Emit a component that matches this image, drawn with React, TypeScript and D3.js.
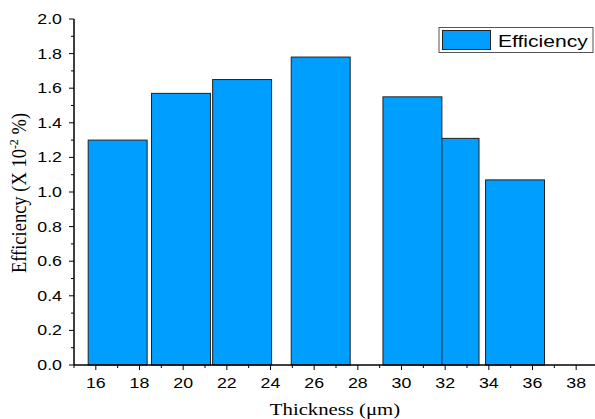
import React, { useRef, useEffect } from "react";
import * as d3 from "d3";

// thickness (µm) at the centre of each bar, and the efficiency (x 10^-2 %)
const thickness = [17.0, 19.9, 22.7, 26.3, 30.5, 32.2, 35.2];
const efficiency = [1.3, 1.57, 1.65, 1.78, 1.55, 1.31, 1.07];
const xTicks = [16, 18, 20, 22, 24, 26, 28, 30, 32, 34, 36, 38];
const yTicks = [0, 0.2, 0.4, 0.6, 0.8, 1.0, 1.2, 1.4, 1.6, 1.8, 2.0];

const W = 595;
const H = 419;
const BAR_W = 2.7; // in thickness units
const FILL = "#009eff";
const SX = 1.27; // the original figure is stretched sideways
const SANS = "Liberation Sans, Arial, sans-serif";
const SERIF = "Liberation Serif, Times New Roman, serif";

const App = () => {
  const svgRef = useRef<SVGSVGElement>(null);

  useEffect(() => {
    const svg = d3.select(svgRef.current);
    svg.selectAll("*").remove();

    const x = d3.scaleLinear().domain([15, 39]).range([74, 598]);
    const y = d3.scaleLinear().domain([0, 2]).range([365, 19]);

    // bars: drawn last-to-first so the 30.5 bar sits over the 32.2 one
    const idx = d3.range(thickness.length).reverse();
    svg
      .append("g")
      .selectAll("rect")
      .data(idx)
      .enter()
      .append("rect")
      .attr("x", (i) => x(thickness[i] - BAR_W / 2))
      .attr("width", (i) => x(thickness[i] + BAR_W / 2) - x(thickness[i] - BAR_W / 2))
      .attr("y", (i) => y(efficiency[i]))
      .attr("height", (i) => y(0) - y(efficiency[i]))
      .attr("fill", FILL)
      .attr("stroke", "#222")
      .attr("stroke-width", 1);

    // x axis
    const xAxis = svg.append("g").attr("transform", `translate(0,${y(0)})`);
    xAxis
      .append("line")
      .attr("x1", 74)
      .attr("x2", W)
      .attr("stroke", "#000")
      .attr("stroke-width", 1.5);
    xAxis
      .selectAll(".minor")
      .data(d3.range(15, 39))
      .enter()
      .append("line")
      .attr("x1", (d) => x(d))
      .attr("x2", (d) => x(d))
      .attr("y1", 0)
      .attr("y2", (d) => (d % 2 === 0 ? 5 : 3))
      .attr("stroke", "#000")
      .attr("stroke-width", 1);
    xAxis
      .selectAll("text")
      .data(xTicks)
      .enter()
      .append("text")
      .attr("transform", (d) => `translate(${x(d)},23) scale(${SX},1)`)
      .attr("text-anchor", "middle")
      .attr("font-family", SANS)
      .attr("font-size", 14)
      .text((d) => d);

    // y axis
    const yAxis = svg.append("g").attr("transform", `translate(74,0)`);
    yAxis
      .append("line")
      .attr("y1", y(2))
      .attr("y2", y(0))
      .attr("stroke", "#000")
      .attr("stroke-width", 1.5);
    yAxis
      .selectAll(".tick")
      .data(d3.range(0, 21).map((d) => d / 10))
      .enter()
      .append("line")
      .attr("y1", (d) => y(d))
      .attr("y2", (d) => y(d))
      .attr("x1", 0)
      .attr("x2", (d, i) => (i % 2 === 0 ? -5 : -3))
      .attr("stroke", "#000")
      .attr("stroke-width", 1);
    yAxis
      .selectAll("text")
      .data(yTicks)
      .enter()
      .append("text")
      .attr("transform", (d) => `translate(-12,${y(d)}) scale(${SX},1)`)
      .attr("dy", "0.35em")
      .attr("text-anchor", "end")
      .attr("font-family", SANS)
      .attr("font-size", 14)
      .text((d) => d.toFixed(1));

    // axis titles
    svg
      .append("text")
      .attr("transform", `translate(335,415) scale(1.22,1)`)
      .attr("text-anchor", "middle")
      .attr("font-family", SERIF)
      .attr("font-size", 17)
      .text("Thickness (\u03bcm)");

    const yt = svg
      .append("text")
      .attr("transform", `translate(26,193) scale(1.08,1) rotate(-90)`)
      .attr("text-anchor", "middle")
      .attr("font-family", SERIF)
      .attr("font-size", 18.5);
    yt.append("tspan").text("Efficiency (X 10");
    yt.append("tspan").attr("font-size", 12).attr("dy", -7).text("-2");
    yt.append("tspan").attr("dy", 7).text(" %)");

    // legend
    const lg = svg.append("g");
    lg.append("rect")
      .attr("x", 439)
      .attr("y", 27.5)
      .attr("width", 154)
      .attr("height", 25)
      .attr("fill", "#fff")
      .attr("stroke", "#555")
      .attr("stroke-width", 1);
    lg.append("rect")
      .attr("x", 442.5)
      .attr("y", 30.5)
      .attr("width", 48)
      .attr("height", 19)
      .attr("fill", FILL)
      .attr("stroke", "#222")
      .attr("stroke-width", 1);
    lg.append("text")
      .attr("transform", `translate(498,47) scale(1.24,1)`)
      .attr("font-family", SANS)
      .attr("font-size", 17)
      .text("Efficiency");
  }, []);

  return (
    <svg
      ref={svgRef}
      width={W}
      height={H}
      style={{ position: "absolute", left: 0, top: 0, background: "#fff" }}
    />
  );
};

export default App;
